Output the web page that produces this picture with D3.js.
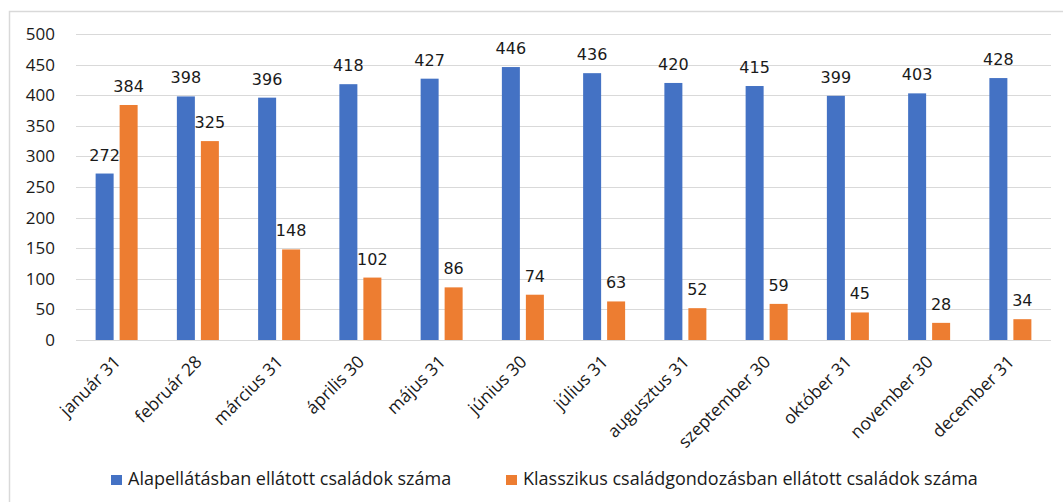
<!DOCTYPE html>
<html><head><meta charset="utf-8">
<script src="https://cdn.jsdelivr.net/npm/d3@7"></script>
<style>body{margin:0;background:#fff}svg{display:block}</style>
</head><body>
<svg id="c" width="1063" height="502"></svg>
<script>
const categories = ["január 31","február 28","március 31","április 30","május 31","június 30","július 31","augusztus 31","szeptember 30","október 31","november 30","december 31"];
const seriesNames = ["Alapellátásban ellátott családok száma","Klasszikus családgondozásban ellátott családok száma"];
const alapellatas = [272,398,396,418,427,446,436,420,415,399,403,428];
const klasszikus = [384,325,148,102,86,74,63,52,59,45,28,34];
const yTicks = [0,50,100,150,200,250,300,350,400,450,500];
const colors = ["#4472C4","#ED7D31"];

(function(){
const svg = d3.select("#c");
svg.append("rect").attr("x",9.5).attr("y",11.5).attr("width",1070).attr("height",520)
  .attr("fill","none").attr("stroke","#d9d9d9").attr("stroke-width",1.5);

const pLeft=76, pRight=1051, pTop=34, pBottom=340;
const x = d3.scaleBand().domain(categories).range([pLeft,pRight]);
const y = d3.scaleLinear().domain([0,500]).range([pBottom,pTop]);
const barW=18, gap=6;

svg.append("g").selectAll("line").data(yTicks).join("line")
  .attr("x1",pLeft).attr("x2",pRight).attr("y1",d=>Math.round(y(d))+0.5).attr("y2",d=>Math.round(y(d))+0.5)
  .attr("stroke","#d9d9d9").attr("stroke-width",1);

const yAxis = d3.axisLeft(y).tickValues(yTicks).tickSize(0).tickPadding(0);
const gy = svg.append("g").attr("transform",`translate(55,0)`).call(yAxis);
gy.select(".domain").remove();
gy.selectAll("text").attr("font-family","'Open Sans', sans-serif").attr("font-size",17).attr("fill","#1a1a1a");

const series = [alapellatas, klasszikus];
series.forEach((vals,si)=>{
  const g = svg.append("g");
  const cx = (c)=> x(c)+x.bandwidth()/2 + (si===0 ? -(gap/2+barW) : gap/2);
  g.selectAll("rect").data(vals).join("rect")
    .attr("x",(d,i)=>cx(categories[i]))
    .attr("y",d=>y(d)).attr("width",barW).attr("height",d=>y(0)-y(d))
    .attr("fill",colors[si]);
  g.selectAll("text").data(vals).join("text")
    .attr("x",(d,i)=>cx(categories[i])+barW/2)
    .attr("y",d=>y(d)-13)
    .attr("text-anchor","middle")
    .attr("font-family","'DejaVu Sans', sans-serif").attr("font-size",16).attr("fill","#1a1a1a")
    .text(d=>d);
});

const xAxis = d3.axisBottom(x).tickSize(0).tickPadding(0);
const gx = svg.append("g").attr("transform",`translate(0,${pBottom})`).call(xAxis);
gx.select(".domain").remove();
gx.selectAll("text")
  .attr("font-family","'Open Sans', sans-serif").attr("font-size",17.5).attr("fill","#1a1a1a")
  .attr("text-anchor","end").attr("dy",0)
  .attr("transform","translate(5,23) rotate(-45)");

const legend = svg.append("g");
const legX = [111, 506];
seriesNames.forEach((n,i)=>{
  legend.append("rect").attr("x",legX[i]).attr("y",475).attr("width",11).attr("height",10).attr("fill",colors[i]);
  legend.append("text").attr("x",legX[i]+17).attr("y",485)
    .attr("font-family","'Open Sans', sans-serif").attr("font-size",18).attr("fill","#1a1a1a").text(n);
});
})();
</script>
</body></html>
